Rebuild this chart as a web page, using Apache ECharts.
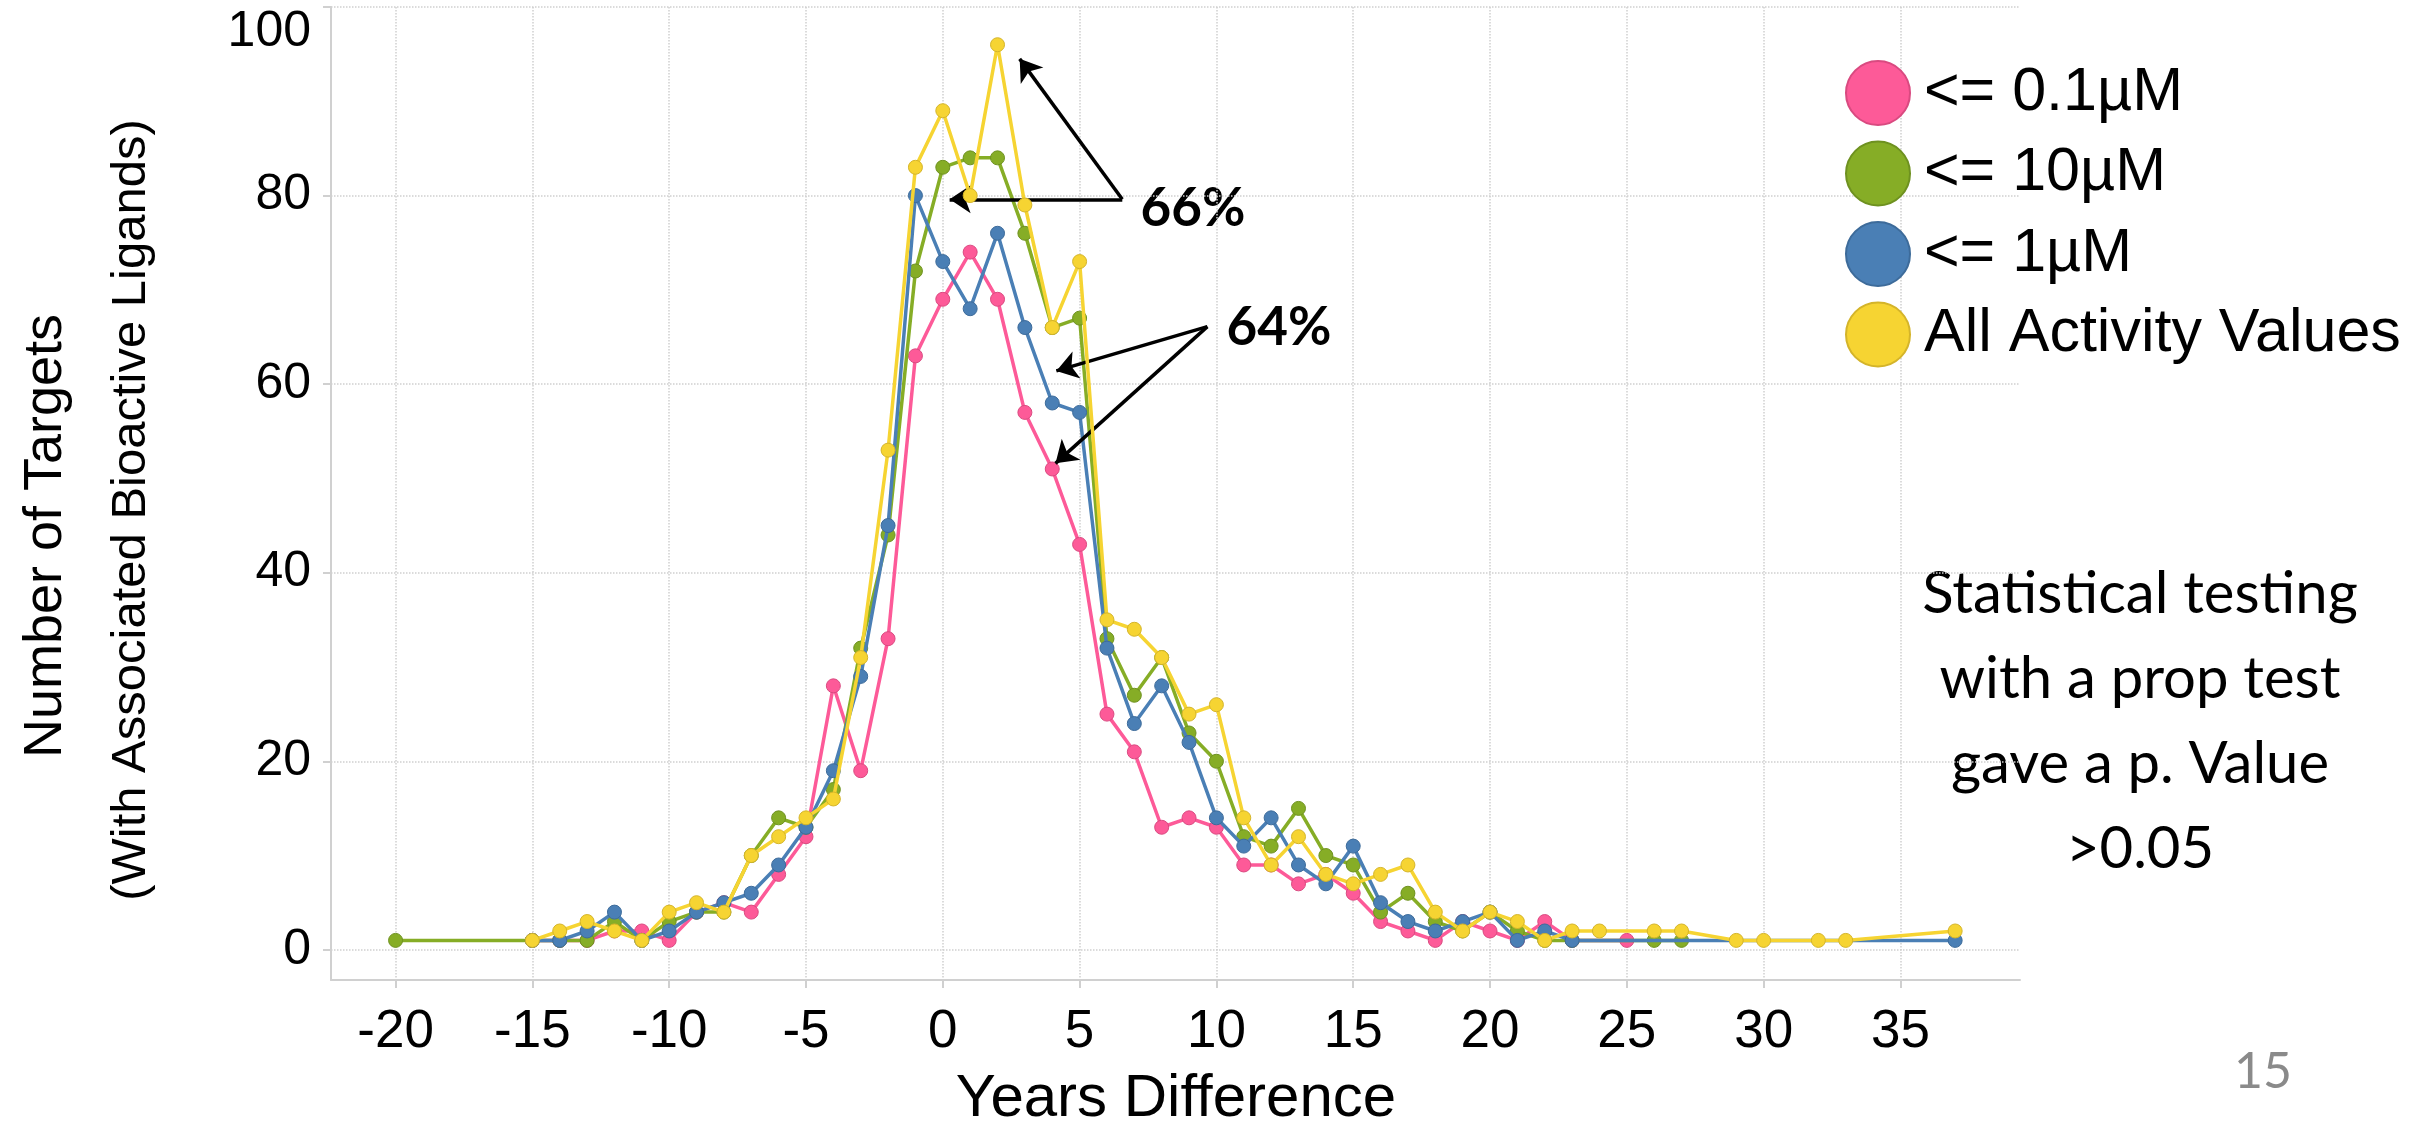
<!DOCTYPE html>
<html><head><meta charset="utf-8">
<script src="https://cdn.jsdelivr.net/npm/echarts@6/dist/echarts.min.js"></script>
<style>html,body{margin:0;padding:0;background:#fff}#c{width:2425px;height:1124px}</style>
</head><body><div id="c"></div>
<script>
// ---- data ----
const seriesNames = ['<= 0.1µM', '<= 10µM', '<= 1µM', 'All Activity Values'];

const pinkX = [-15,-14,-13,-12,-11,-10,-9,-8,-7,-6,-5,-4,-3,-2,-1,0,1,2,3,4,5,6,7,8,9,10,11,12,13,14,15,16,17,18,19,20,21,22,23,25];
const pinkY = [1,1,1,2,2,1,4,5,4,8,12,28,19,33,63,69,74,69,57,51,43,25,21,13,14,13,9,9,7,8,6,3,2,1,3,2,1,3,1,1];

const greenX = [-20,-15,-14,-13,-12,-11,-10,-9,-8,-7,-6,-5,-4,-3,-2,-1,0,1,2,3,4,5,6,7,8,9,10,11,12,13,14,15,16,17,18,19,20,21,22,23,26,27];
const greenY = [1,1,1,1,3,1,3,4,4,10,14,13,17,32,44,72,83,84,84,76,66,67,33,27,31,23,20,12,11,15,10,9,4,6,3,2,4,2,1,1,1,1];

const blueX = [-15,-14,-13,-12,-11,-10,-9,-8,-7,-6,-5,-4,-3,-2,-1,0,1,2,3,4,5,6,7,8,9,10,11,12,13,14,15,16,17,18,19,20,21,22,23,37];
const blueY = [1,1,2,4,1,2,4,5,6,9,13,19,29,45,80,73,68,76,66,58,57,32,24,28,22,14,11,14,9,7,11,5,3,2,3,4,1,2,1,1];

const yellowX = [-15,-14,-13,-12,-11,-10,-9,-8,-7,-6,-5,-4,-3,-2,-1,0,1,2,3,4,5,6,7,8,9,10,11,12,13,14,15,16,17,18,19,20,21,22,23,24,26,27,29,30,32,33,37];
const yellowY = [1,2,3,2,1,4,5,4,10,12,14,16,31,53,83,89,80,96,79,66,73,35,34,31,25,26,14,9,12,8,7,8,9,4,2,4,3,1,2,2,2,2,1,1,1,1,2];

const xTickStep = 5;
const yTickStep = 20;
const yTop = 100;

// annotation arrows in data coordinates: [fromX, fromY, toX, toY]
const arrows66 = [[6.56, 79.6, 2.81, 94.5], [6.56, 79.6, 0.25, 79.6]];
const arrows64 = [[9.67, 66.1, 4.15, 61.4], [9.67, 66.1, 4.12, 51.6]];

const statLines = ['Statistical testing', 'with a prop test', 'gave a p. Value', '>0.05'];

// ---- chart ----
const colors = ['#FD5A98', '#86AD26', '#4A7FB5', '#F6D432'];
const borders = ['#D94A80', '#6E9120', '#3D6B9A', '#D4B42A'];
const xs = [pinkX, greenX, blueX, yellowX];
const ys = [pinkY, greenY, blueY, yellowY];

const FONT = '"Liberation Sans", Arial, sans-serif';

function pairs(a, b) { return a.map((v, i) => [v, b[i]]); }
function arrowData(list) {
  return list.map(a => [{ coord: [a[0], a[1]] }, { coord: [a[2], a[3]] }]);
}

const series = seriesNames.map((n, i) => ({
  name: n,
  type: 'line',
  data: pairs(xs[i], ys[i]),
  symbol: 'circle',
  symbolSize: 14,
  showAllSymbol: true,
  lineStyle: { color: colors[i], width: 3.5 },
  itemStyle: { color: colors[i], borderColor: borders[i], borderWidth: 1 },
  emphasis: { disabled: true },
  z: 2 + i
}));

series[3].markLine = {
  silent: true,
  symbol: ['none', 'arrow'],
  symbolSize: 21,
  label: { show: false },
  lineStyle: { color: '#000', width: 3.5, type: 'solid' },
  emphasis: { disabled: true },
  data: arrowData(arrows66.concat(arrows64))
};

const graphic = [
  { type: 'text', x: 46, y: 536, rotation: Math.PI / 2,
    style: { text: 'Number of Targets', font: '54px ' + FONT, fill: '#000', align: 'center', verticalAlign: 'middle' } },
  { type: 'text', x: 131, y: 510, rotation: Math.PI / 2,
    style: { text: '(With Associated Bioactive Ligands)', font: '49px ' + FONT, fill: '#000', align: 'center', verticalAlign: 'middle' } },
  { type: 'text', x: 1176, y: 1099,
    style: { text: 'Years Difference', font: '60px ' + FONT, fill: '#000', align: 'center', verticalAlign: 'middle' } },
  { type: 'text', x: 1193, y: 209,
    style: { text: '66%', font: 'bold 53px Lato, sans-serif', fill: '#000', align: 'center', verticalAlign: 'middle' } },
  { type: 'text', x: 1279, y: 328,
    style: { text: '64%', font: 'bold 53px Lato, sans-serif', fill: '#000', align: 'center', verticalAlign: 'middle' } },
  { type: 'text', x: 2263, y: 1072,
    style: { text: '15', font: '50px Lato, sans-serif', fill: '#8a8a8a', align: 'center', verticalAlign: 'middle' } }
].concat(statLines.map((t, i) => ({
  type: 'text', x: 2140, y: 594 + i * 85,
  style: { text: t, font: '58px Lato, sans-serif', fill: '#000', align: 'center', verticalAlign: 'middle' }
})));

const chart = echarts.init(document.getElementById('c'), null, { renderer: 'canvas' });
chart.setOption({
  animation: false,
  color: colors,
  grid: { left: 331, right: 405, top: 7, bottom: 144, containLabel: false },
  legend: {
    data: seriesNames,
    orient: 'vertical',
    left: 1840, top: 55,
    icon: 'circle',
    itemWidth: 64, itemHeight: 64, itemGap: 14.5,
    selectedMode: false,
    textStyle: { fontSize: 61, fontFamily: FONT, color: '#000', padding: [0, 0, 0, 9] }
  },
  xAxis: {
    type: 'value', min: -22.36, max: 39.37, splitNumber: 12,
    axisLine: { show: true, onZero: false, lineStyle: { color: '#d0d0d0', width: 2 } },
    axisTick: { show: true, length: 8, lineStyle: { color: '#d0d0d0', width: 2 } },
    axisLabel: {
      fontSize: 53, fontFamily: FONT, color: '#000', margin: 26,
      showMinLabel: false, showMaxLabel: false,
      formatter: v => (Math.abs(v % xTickStep) < 1e-6 ? String(v) : '')
    },
    splitLine: { show: true, showMinLine: false, showMaxLine: false, lineStyle: { color: '#cfcfcf', type: 'dotted', width: 1.5 } }
  },
  yAxis: {
    type: 'value', min: -3.2, max: yTop, splitNumber: 5,
    axisLine: { show: true, onZero: false, lineStyle: { color: '#d0d0d0', width: 2 } },
    axisTick: { show: true, length: 8, lineStyle: { color: '#d0d0d0', width: 2 } },
    axisLabel: {
      fontSize: 50, fontFamily: FONT, color: '#000', margin: 20,
      showMinLabel: false,
      formatter: v => (Math.abs(v % yTickStep) < 1e-6 ? (v === yTop ? '{t|' + v + '}' : String(v)) : ''),
      rich: { t: { fontSize: 50, fontFamily: FONT, color: '#000', padding: [50, 0, 0, 0] } }
    },
    splitLine: { show: true, showMinLine: false, lineStyle: { color: '#cfcfcf', type: 'dotted', width: 1.5 } }
  },
  graphic: graphic,
  series: series
});
</script>
</body></html>
